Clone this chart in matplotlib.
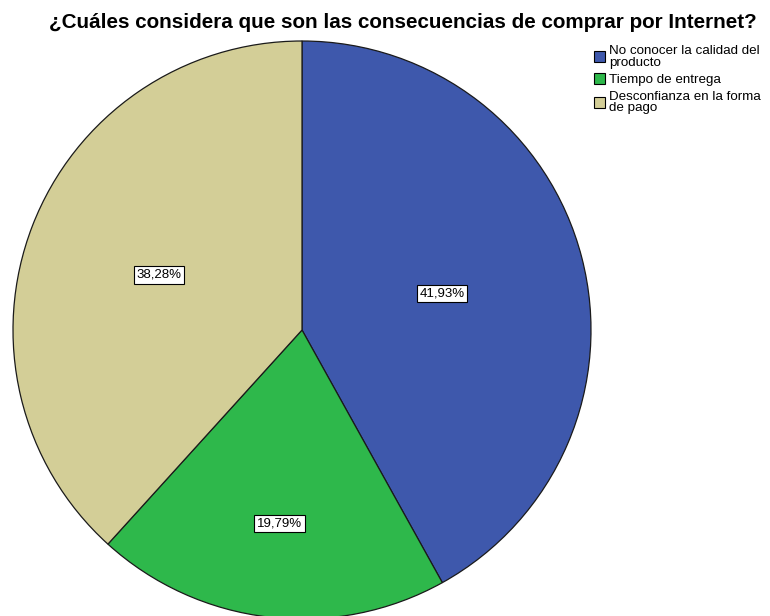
import numpy as np
import matplotlib

matplotlib.use("Agg")
import matplotlib.pyplot as plt
from matplotlib.patches import Patch

plt.rcParams["font.family"] = ["Liberation Sans", "DejaVu Sans"]

CATEGORIES = ["No conocer la calidad del\nproducto", "Tiempo de entrega",
              "Desconfianza en la forma\nde pago"]
SHARES = [41.93, 19.79, 38.28]
COLORS = ["#3e58ac", "#2eb84b", "#d3ce97"]
LABEL_DIST = [0.50, 0.675, 0.53]

fig = plt.figure(figsize=(7.7, 6.16), dpi=100)
W, H = 770, 616
R = 289
cx, cy = 302, 330
ax = fig.add_axes([(cx - R) / W, (H - cy - R) / H, 2 * R / W, 2 * R / H])

wedges, _ = ax.pie(SHARES, colors=COLORS, startangle=90, counterclock=False,
                   radius=1, wedgeprops=dict(edgecolor="#1a1a1a", linewidth=0.9))
ax.set_xlim(-1, 1)
ax.set_ylim(-1, 1)
ax.set_aspect("equal")
ax.axis("off")

for w, v, d in zip(wedges, SHARES, LABEL_DIST):
    mid = np.deg2rad((w.theta1 + w.theta2) / 2)
    ax.text(d * np.cos(mid), d * np.sin(mid), f"{v:.2f}%".replace(".", ","),
            ha="center", va="center", fontsize=9.5,
            bbox=dict(boxstyle="square,pad=0.2", facecolor="white",
                      edgecolor="black", linewidth=0.8))

fig.text(403 / W, 1 - 23 / H,
         "¿Cuáles considera que son las consecuencias de comprar por Internet?",
         ha="center", va="center", fontsize=14.9, fontweight="bold")

handles = [Patch(facecolor=c, edgecolor="black", linewidth=0.8) for c in COLORS]
leg = fig.legend(handles, CATEGORIES, loc="upper left",
                 bbox_to_anchor=(594 / W, 1 - 45 / H), frameon=False, fontsize=9.6,
                 handlelength=0.85, handleheight=0.85, handletextpad=0.25,
                 labelspacing=0.35, borderpad=0, borderaxespad=0)
for t in leg.get_texts():
    t.set_linespacing(0.95)

fig.savefig("out.png", dpi=100, facecolor="white")
